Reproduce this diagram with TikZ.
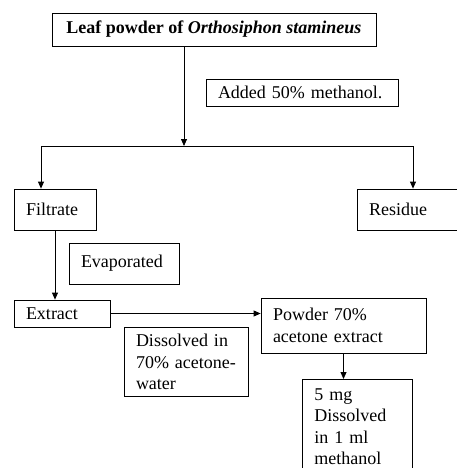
\documentclass[tikz,border=0pt]{standalone}
\usepackage{fontspec}
\setmainfont{Liberation Serif}
\usetikzlibrary{positioning,arrows.meta}

\begin{document}
\begin{tikzpicture}[x=1pt,y=-1pt,
  box/.style={draw, line width=0.8pt, inner xsep=12pt, align=left, font=\fontsize{18}{21.5}\selectfont},
  arr/.style={line width=0.8pt, -{Triangle[length=7pt,width=6pt]}}]
\useasboundingbox (0,0) rectangle (457,468);
\clip (0,0) rectangle (457,468);

% Boxes
\node[box, minimum width=324pt, minimum height=33pt, align=center] (leaf) at (214,29.5) {\textbf{Leaf powder of \textit{Orthosiphon stamineus}}};
\node[box, text width=168pt, minimum height=27pt] (added) at (302,92.5) {Added 50\% methanol.};
\node[box, text width=58pt, minimum height=41pt] (filtrate) at (55,209.5) {Filtrate};
\node[box, text width=80pt, minimum height=41pt] (residue) at (409,209.5) {Residue};
\node[box, text width=86pt, minimum height=41pt] (evap) at (124,263.5) {Evaporated};
\node[box, text width=72pt, minimum height=27pt] (extract) at (62,313.5) {Extract};
\node[box, text width=141pt, minimum height=55pt] (powder) at (343.5,325.5) {Powder 70\%\\acetone extract};
\node[box, text width=100pt, minimum height=69pt] (dissolved) at (186,362) {Dissolved in\\70\% acetone-\\water};
\node[box, text width=86pt, inner ysep=9pt, anchor=north west] (mg) at (302,379) {5 mg\\Dissolved\\in 1 ml\\methanol};

% Split line
\coordinate (split) at (184,146);
\coordinate (lt) at (41,146);
\coordinate (rt) at (413,146);

% Arrows
\draw[arr] (leaf.south -| split) -- (split);
\draw[line width=0.8pt] (lt) -- (rt);
\draw[arr] (lt) -- (filtrate.north -| lt);
\draw[arr] (rt) -- (residue.north -| rt);
\draw[arr] (filtrate.south) -- (filtrate.south |- extract.north);
\draw[arr] (extract.east) -- (extract.east -| powder.west);
\draw[arr] (powder.south) -- (powder.south |- mg.north);
\end{tikzpicture}
\end{document}
